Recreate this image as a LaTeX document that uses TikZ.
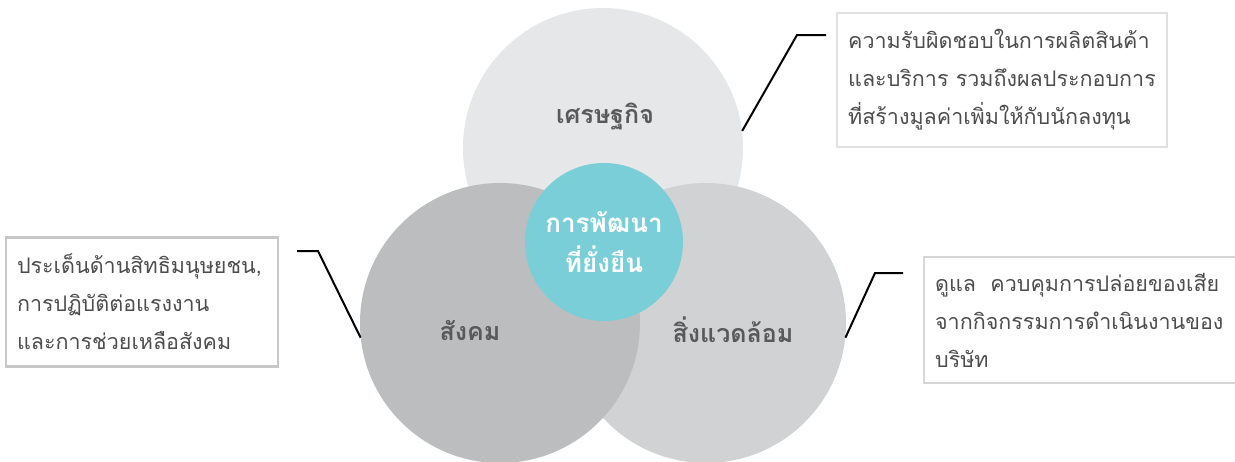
\documentclass[tikz,border=0pt]{standalone}
\usepackage{fontspec}
\newfontfamily\thaifont[Script=Thai]{Loma}
\definecolor{ecofill}{HTML}{E6E7E8}
\definecolor{socfill}{HTML}{BCBDBF}
\definecolor{envfill}{HTML}{D1D2D4}
\definecolor{corefill}{HTML}{79CED8}
\definecolor{titlegrey}{HTML}{58595B}
\definecolor{notegrey}{HTML}{4D4D4D}
\begin{document}
\begin{tikzpicture}[x=1pt,y=-1pt,
		disc/.style={circle,minimum size=280pt,inner sep=0pt},
		title/.style={font=\thaifont\bfseries\fontsize{25}{30}\selectfont,text=titlegrey},
		note/.style={line width=2.2pt,align=left,inner xsep=11pt,inner ysep=0pt,
			font=\thaifont\fontsize{21.5}{38}\selectfont,text=notegrey},
		leader/.style={line width=2pt,black}]
	\useasboundingbox (0,0) rectangle (1235,461);
	% circles, back to front
	\node[disc,fill=ecofill] (eco) at (603,148) {};
	\node[disc,fill=envfill] (env) at (706,323) {};
	\node[disc,fill=socfill] (soc) at (500,323) {};
	\node[circle,minimum size=158pt,inner sep=0pt,fill=corefill] (core) at (604,242) {};
	\node[title] (ecotitle) at (605,117) {เศรษฐกิจ};
	\node[title] (soctitle) at (470,330) {สังคม};
	\node[title] (envtitle) at (733,330) {สิ่งแวดล้อม};
	\node[font=\thaifont\bfseries\fontsize{26}{40}\selectfont,text=white,align=center] (coretitle)
		at (core) {การพัฒนา\\ที่ยั่งยืน};
	% notes
	\node[note,draw=black!12,minimum width=326pt,minimum height=134pt] (econote) at (1002,80)
		{ความรับผิดชอบในการผลิตสินค้า\\และบริการ รวมถึงผลประกอบการ\\ที่สร้างมูลค่าเพิ่มให้กับนักลงทุน};
	\node[note,draw=black!22,text width=250pt,minimum height=129pt] (socnote) at (142,302)
		{ประเด็นด้านสิทธิมนุษยชน,\\การปฏิบัติต่อแรงงาน\\และการช่วยเหลือสังคม};
	\node[note,draw=black!16,text width=293pt,minimum height=126pt,anchor=west] (envnote) at (923,320)
		{ดูแล\ \ ควบคุมการปล่อยของเสีย\\จากกิจกรรมการดำเนินงานของ\\บริษัท};
	% leaders
	\coordinate (ecoknee) at (797,35);
	\coordinate (socknee) at (318,251);
	\coordinate (envknee) at (875,273);
	\draw[leader] (eco.7) -- (ecoknee) -- ++(29,0);
	\draw[leader] (soc.186) -- (socknee) -- ++(-21,0);
	\draw[leader] (env.-6) -- (envknee) -- ++(28,0);
\end{tikzpicture}
\end{document}
